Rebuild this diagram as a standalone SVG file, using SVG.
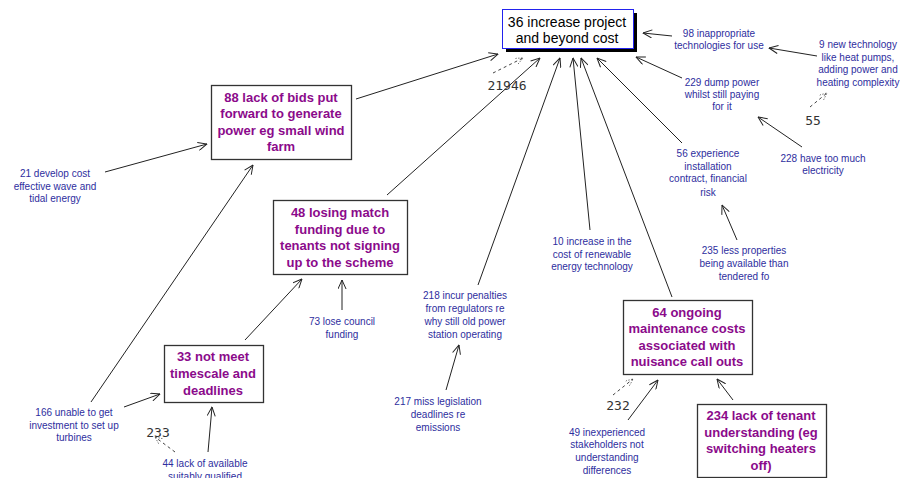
<svg xmlns="http://www.w3.org/2000/svg" width="900" height="478" viewBox="0 0 900 478">
<defs>
<marker id="arr" viewBox="0 0 10 10" refX="10" refY="5" markerWidth="10" markerHeight="9" orient="auto" markerUnits="userSpaceOnUse">
<path d="M0,0.5 L10,5 L0,9.5" fill="none" stroke="#222" stroke-width="1.1"/>
</marker>
<marker id="darr" viewBox="0 0 10 10" refX="10" refY="5" markerWidth="8" markerHeight="7" orient="auto" markerUnits="userSpaceOnUse">
<path d="M0,0.5 L10,5 L0,9.5" fill="none" stroke="#444" stroke-width="1" stroke-dasharray="2,2"/>
</marker>
<style>
.c{fill:none;stroke:#222;stroke-width:1;marker-end:url(#arr)}
.d{fill:none;stroke:#444;stroke-width:1;stroke-dasharray:3,3;marker-end:url(#darr)}
.box{fill:#fff;stroke:#333;stroke-width:1.3}
.t{font-family:"Liberation Sans",Arial,sans-serif;font-size:10px;fill:#2E2E9E;text-anchor:middle}
.b{font-family:"Liberation Sans",Arial,sans-serif;font-size:13px;font-weight:bold;fill:#8B0A8B;text-anchor:middle}
.m{font-family:"Liberation Sans",Arial,sans-serif;font-size:14px;fill:#000;text-anchor:middle}
.n{font-family:"DejaVu Sans Mono","Liberation Mono",monospace;font-size:13px;fill:#333;text-anchor:middle}
</style>
</defs>
<g id="connectors">
<line class="c" x1="672" y1="36" x2="643" y2="33"/>
<line class="c" x1="817" y1="56" x2="769" y2="48"/>
<line class="d" x1="810" y1="107" x2="827" y2="93"/>
<line class="c" x1="682" y1="78" x2="636" y2="57"/>
<line class="c" x1="802" y1="147" x2="758" y2="117"/>
<line class="c" x1="682" y1="143" x2="597" y2="58"/>
<line class="c" x1="737" y1="240" x2="722" y2="205"/>
<line class="c" x1="590" y1="230" x2="573" y2="58"/>
<line class="c" x1="672" y1="297" x2="581" y2="58"/>
<line class="c" x1="478" y1="285" x2="560" y2="58"/>
<line class="c" x1="387" y1="195" x2="540" y2="58"/>
<line class="c" x1="356" y1="99" x2="498" y2="54"/>
<line class="d" x1="493" y1="73" x2="523" y2="58"/>
<line class="c" x1="105" y1="172" x2="207" y2="144"/>
<line class="c" x1="91" y1="402" x2="253" y2="165"/>
<line class="c" x1="342" y1="310" x2="342" y2="280"/>
<line class="c" x1="245" y1="340" x2="302" y2="279"/>
<line class="c" x1="124" y1="407" x2="160" y2="394"/>
<line class="c" x1="208" y1="452" x2="212" y2="407"/>
<line class="d" x1="175" y1="452" x2="155" y2="437"/>
<line class="c" x1="446" y1="390" x2="459" y2="345"/>
<line class="c" x1="628" y1="420" x2="658" y2="380"/>
<line class="d" x1="613" y1="395" x2="633" y2="379"/>
<line class="c" x1="733" y1="400" x2="717" y2="379"/>
</g>
<g id="n36">
<rect x="506" y="13" width="131" height="39" fill="#000"/>
<rect x="502.5" y="9.5" width="131" height="39" fill="#fff" stroke="#2222EE" stroke-width="1"/>
<text class="m" x="567" y="27">36 increase project</text>
<text class="m" x="567" y="43">and beyond cost</text>
</g>
<g id="n98">
<text class="t" x="719" y="37">98 inappropriate</text>
<text class="t" x="719" y="49">technologies for use</text>
</g>
<g id="n9">
<text class="t" x="858" y="48">9 new technology</text>
<text class="t" x="858" y="61">like heat pumps,</text>
<text class="t" x="858" y="73">adding power and</text>
<text class="t" x="858" y="86">heating complexity</text>
</g>
<g id="l55"><text class="n" x="813" y="125">55</text></g>
<g id="n229">
<text class="t" x="722" y="86">229 dump power</text>
<text class="t" x="722" y="98">whilst still paying</text>
<text class="t" x="722" y="110">for it</text>
</g>
<g id="n228">
<text class="t" x="823" y="162">228 have too much</text>
<text class="t" x="823" y="174">electricity</text>
</g>
<g id="n56">
<text class="t" x="708" y="157">56 experience</text>
<text class="t" x="708" y="170">installation</text>
<text class="t" x="708" y="182">contract, financial</text>
<text class="t" x="708" y="196">risk</text>
</g>
<g id="n235">
<text class="t" x="744" y="254">235 less properties</text>
<text class="t" x="744" y="267">being available than</text>
<text class="t" x="744" y="280">tendered fo</text>
</g>
<g id="n10">
<text class="t" x="592" y="245">10 increase in the</text>
<text class="t" x="592" y="258">cost of renewable</text>
<text class="t" x="592" y="270">energy technology</text>
</g>
<g id="l21946"><text class="n" x="507" y="90">21946</text></g>
<g id="n88">
<rect class="box" x="211.5" y="85.5" width="140" height="74"/>
<text class="b" x="281" y="102">88 lack of bids put</text>
<text class="b" x="281" y="118">forward to generate</text>
<text class="b" x="281" y="135">power eg small wind</text>
<text class="b" x="281" y="151">farm</text>
</g>
<g id="n21">
<text class="t" x="55" y="177">21 develop cost</text>
<text class="t" x="55" y="190">effective wave and</text>
<text class="t" x="55" y="202">tidal energy</text>
</g>
<g id="n48">
<rect class="box" x="273.5" y="200.5" width="134" height="74"/>
<text class="b" x="340" y="217">48 losing match</text>
<text class="b" x="340" y="234">funding due to</text>
<text class="b" x="340" y="250">tenants not signing</text>
<text class="b" x="340" y="267">up to the scheme</text>
</g>
<g id="n73">
<text class="t" x="342" y="325">73 lose council</text>
<text class="t" x="342" y="338">funding</text>
</g>
<g id="n218">
<text class="t" x="465" y="299">218 incur penalties</text>
<text class="t" x="465" y="312">from regulators re</text>
<text class="t" x="465" y="325">why still old power</text>
<text class="t" x="465" y="338">station operating</text>
</g>
<g id="n217">
<text class="t" x="438" y="405">217 miss legislation</text>
<text class="t" x="438" y="418">deadlines re</text>
<text class="t" x="438" y="431">emissions</text>
</g>
<g id="n33">
<rect class="box" x="164.5" y="345.5" width="99" height="57"/>
<text class="b" x="213" y="361">33 not meet</text>
<text class="b" x="213" y="378">timescale and</text>
<text class="b" x="213" y="395">deadlines</text>
</g>
<g id="n166">
<text class="t" x="74" y="416">166 unable to get</text>
<text class="t" x="74" y="429">investment to set up</text>
<text class="t" x="74" y="441">turbines</text>
</g>
<g id="l233"><text class="n" x="158" y="437">233</text></g>
<g id="n44">
<text class="t" x="205" y="467">44 lack of available</text>
<text class="t" x="205" y="480">suitably qualified</text>
</g>
<g id="n64">
<rect class="box" x="623.5" y="300.5" width="129" height="74"/>
<text class="b" x="687" y="317">64 ongoing</text>
<text class="b" x="687" y="333">maintenance costs</text>
<text class="b" x="687" y="350">associated with</text>
<text class="b" x="687" y="366">nuisance call outs</text>
</g>
<g id="l232"><text class="n" x="618" y="410">232</text></g>
<g id="n49">
<text class="t" x="607" y="436">49 inexperienced</text>
<text class="t" x="607" y="448">stakeholders not</text>
<text class="t" x="607" y="461">understanding</text>
<text class="t" x="607" y="474">differences</text>
</g>
<g id="n234">
<rect class="box" x="697.5" y="404.5" width="129" height="73"/>
<text class="b" x="761" y="420">234 lack of tenant</text>
<text class="b" x="761" y="437">understanding (eg</text>
<text class="b" x="761" y="453">switching heaters</text>
<text class="b" x="761" y="470">off)</text>
</g>
</svg>
